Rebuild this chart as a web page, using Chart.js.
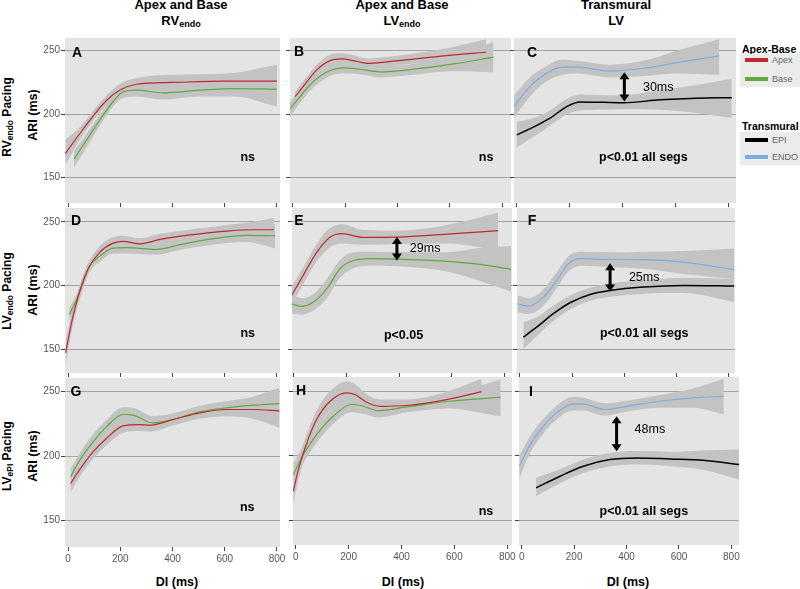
<!DOCTYPE html>
<html>
<head>
<meta charset="utf-8">
<script src="https://cdn.jsdelivr.net/npm/chart.js@4"></script>
<style>
body { margin: 0; background: #fff; width: 800px; height: 589px; overflow: hidden; position: relative;
       font-family: "Liberation Sans", Arial, sans-serif; }
.t { position: absolute; white-space: nowrap; color: #000; line-height: 14px; }
.hd { font-weight: bold; font-size: 13px; transform: translateX(-50%); }
.hd sub { font-size: 9px; vertical-align: -2px; }
.rot { font-weight: bold; transform: translate(-50%, -50%) rotate(-90deg); }
.rot sub { font-size: 8.5px; vertical-align: -2px; }
.lgT { font-weight: bold; font-size: 10.5px; }
.lgBox { position: absolute; background: #ebebeb; }
.sw { position: absolute; height: 4px; width: 23px; }
.lgI { font-size: 9px; color: #666; }
canvas { position: absolute; }
</style>
</head>
<body>

<div class="t hd" style="left:181px;top:-2px">Apex and Base</div>
<div class="t hd" style="left:181px;top:14px">RV<sub>endo</sub></div>
<div class="t hd" style="left:402px;top:-2px">Apex and Base</div>
<div class="t hd" style="left:402px;top:14px">LV<sub>endo</sub></div>
<div class="t hd" style="left:616px;top:-2px">Transmural</div>
<div class="t hd" style="left:616px;top:14px">LV</div>

<div class="t rot" style="left:8px;top:117px;font-size:12px">RV<sub>endo</sub> Pacing</div>
<div class="t rot" style="left:33px;top:115px;font-size:12.5px">ARI (ms)</div>
<div class="t rot" style="left:8px;top:291px;font-size:12px">LV<sub>endo</sub> Pacing</div>
<div class="t rot" style="left:33px;top:290px;font-size:12.5px">ARI (ms)</div>
<div class="t rot" style="left:8px;top:456px;font-size:12px">LV<sub>ePI</sub> Pacing</div>
<div class="t rot" style="left:33px;top:456px;font-size:12.5px">ARI (ms)</div>

<div class="t" style="left:177px;top:575px;font-weight:bold;font-size:12.5px;transform:translateX(-50%)">DI (ms)</div>
<div class="t" style="left:403px;top:575px;font-weight:bold;font-size:12.5px;transform:translateX(-50%)">DI (ms)</div>
<div class="t" style="left:628px;top:575px;font-weight:bold;font-size:12.5px;transform:translateX(-50%)">DI (ms)</div>

<div class="t lgT" style="left:742px;top:42px">Apex-Base</div>
<div class="lgBox" style="left:740px;top:54px;width:60px;height:33px"></div>
<div class="sw" style="left:745px;top:58px;background:#c0282d"></div>
<div class="t lgI" style="left:772px;top:53px">Apex</div>
<div class="sw" style="left:745px;top:77px;background:#62a83c"></div>
<div class="t lgI" style="left:772px;top:72px">Base</div>

<div class="t lgT" style="left:742px;top:119px">Transmural</div>
<div class="lgBox" style="left:740px;top:132px;width:60px;height:33px"></div>
<div class="sw" style="left:745px;top:138px;background:#000"></div>
<div class="t lgI" style="left:772px;top:133px">EPI</div>
<div class="sw" style="left:745px;top:155px;background:#7aaee0"></div>
<div class="t lgI" style="left:772px;top:150px">ENDO</div>

<script>
// axis ticks
var xTicks = [0, 200, 400, 600, 800];
var yTicks = [150, 200, 250];

// A: RVendo pacing, apex vs base
var aApexX  = [-10, 46, 97, 148, 199, 263, 400, 607, 800];
var aApex   = [169, 185, 198.7, 211, 219, 223.6, 225, 226, 226];
var aApexLo = [160, 180, 195, 207, 214, 219, 220, 220, 214];
var aApexHi = [180, 190, 203, 215, 224, 228.5, 231, 232, 239];
var aBaseX  = [23, 71.5, 122, 173, 212, 263, 364, 505, 633, 800];
var aBase   = [164.6, 179.8, 195.5, 210, 217.8, 219, 216.8, 218.9, 220.2, 219.7];
var aBaseLo = [158, 174, 191, 206, 213, 214, 211.5, 214, 214, 206];
var aBaseHi = [171, 185, 200, 214, 222, 223.5, 222, 224, 226, 233];

// B
var bApexX  = [9, 40, 92, 143, 187, 232, 285, 359, 487, 614, 739];
var bApex   = [213.9, 221.7, 234.9, 242.2, 243.5, 242.2, 240.1, 241.2, 244, 246.7, 248.8];
var bApexLo = [209, 217, 230, 237.5, 239, 238, 236.5, 237.5, 240, 240, 238];
var bApexHi = [218, 226, 239, 247, 248, 246.5, 244, 245, 248.5, 253, 259];
var bBaseX  = [-10, 28, 79, 143, 193, 257, 334, 461, 614, 767];
var bBase   = [204.2, 213.9, 225.7, 234.4, 236.5, 235.4, 233.3, 235.4, 239.6, 244.9];
var bBaseLo = [198, 209, 221, 230, 232, 231.5, 229, 231, 234, 233];
var bBaseHi = [210, 219, 230, 238.5, 241, 239.5, 237.5, 239.5, 245, 257];

// C: transmural
var cEndoX  = [-10, 50, 113, 176, 227, 353, 479, 605, 766];
var cEndo   = [206, 221.7, 232.3, 237, 237, 234, 236.2, 240.6, 245.9];
var cEndoLo = [197, 214, 226, 231, 232, 229, 230, 232, 231];
var cEndoHi = [215, 229, 238, 243, 242, 239, 242, 250, 259];
var cEpiX   = [0, 63, 126, 189, 239, 327, 403, 542, 680, 813];
var cEpi    = [183.7, 189.8, 196.9, 206, 209.7, 209.4, 209.1, 211.3, 212.6, 213];
var cEpiLo  = [174, 182, 191, 200, 203, 203.5, 204, 203.5, 201, 197];
var cEpiHi  = [194, 197, 203, 212, 215.5, 215, 215, 219, 223, 228];

// D: LVendo pacing
var dApexX  = [-9, 14, 46, 80, 122, 173, 212, 276, 352, 454, 607, 709, 788];
var dApex   = [147.1, 171.2, 196, 214, 226.2, 233.2, 234.6, 232.7, 236.1, 239.3, 242.7, 243.7, 243.7];
var dApexLo = [137, 164, 190, 209.5, 221, 228.5, 230, 228, 232, 235, 238, 237.5, 235];
var dApexHi = [157, 178, 201, 218.5, 231, 238, 239, 237, 240.5, 243.5, 247.5, 250, 253];
var dBaseX  = [5, 33, 55, 80, 122, 173, 224, 340, 429, 556, 684, 793];
var dBase   = [177.2, 189, 201, 214.5, 223, 229.3, 229.6, 228.3, 232, 236.7, 239.3, 239];
var dBaseLo = [172, 185, 197, 210, 218.5, 225, 225, 224, 228, 232, 234, 229];
var dBaseHi = [182, 193, 205, 219, 227.5, 234, 234, 232.5, 236, 241, 245, 248];

// E
var eApexX  = [-8, 36, 88, 138, 183, 265, 392, 582, 776];
var eApex   = [192.1, 207.9, 226.2, 237.9, 240.6, 237.7, 237.9, 240.3, 243];
var eApexLo = [185, 201, 219, 230, 233, 232, 232.5, 233, 228];
var eApexHi = [199, 214, 233, 245, 248, 243.5, 243, 247.5, 257];
var eBaseX  = [-8, 30, 75, 126, 176, 227, 290, 392, 582, 708, 826];
var eBase   = [185.6, 183.5, 186.9, 197.4, 213.1, 219.6, 221, 220.7, 218.9, 216.5, 212.6];
var eBaseLo = [178, 177, 180.5, 190, 206, 213.5, 215.5, 215, 211, 203.5, 195];
var eBaseHi = [193, 190, 193, 205, 220, 226, 226.5, 226, 226, 229.5, 231];

// F
var fEndoX  = [-10, 32, 90, 141, 186, 230, 346, 474, 627, 822];
var fEndo   = [185.6, 183.7, 190.8, 203.9, 217, 221, 220.4, 220.2, 218.3, 212.3];
var fEndoLo = [179, 177.5, 184, 198, 211, 215.5, 214.5, 213, 209, 205];
var fEndoHi = [192, 190, 197, 210.5, 223, 226.5, 226, 226.5, 227, 229];
var fEpiX   = [13, 64, 128, 192, 269, 346, 474, 627, 822];
var fEpi    = [159.4, 167.2, 177.8, 186.4, 192.9, 196, 198.7, 200, 199.5];
var fEpiLo  = [150, 160, 172, 181, 188, 191, 193.5, 194, 187];
var fEpiHi  = [171, 175, 184, 192, 198, 201.5, 204, 206, 205];

// G: LVepi pacing
var gApexX  = [10, 45, 96, 147, 210, 274, 312, 402, 504, 606, 708, 809];
var gApex   = [178.8, 189.7, 203.3, 213.7, 223.5, 224.5, 224, 228.4, 233.6, 236.2, 236.2, 235.1];
var gApexLo = [172, 184, 198, 208.5, 218, 219.5, 219, 224, 229, 231, 229, 222];
var gApexHi = [185, 195, 209, 219, 229, 230, 229, 233, 238, 241, 243.5, 248];
var gBaseX  = [10, 45, 96, 147, 210, 249, 325, 402, 504, 606, 708, 809];
var gBase   = [184, 196.9, 211.1, 222.7, 232.3, 231.8, 225.8, 228.4, 234.4, 237.4, 239.5, 240.8];
var gBaseLo = [178, 191, 205.5, 217, 226, 226, 221, 224, 230, 232.5, 233, 229];
var gBaseHi = [190, 202.5, 217, 228, 238, 237.5, 231, 233, 239, 242.5, 246, 253];

// H
var hApexX  = [-9, 10, 42, 79, 130, 193, 224, 268, 319, 420, 571, 703];
var hApex   = [172.3, 189.1, 209.8, 227.9, 242.1, 248.6, 247.3, 241.3, 238.2, 238.8, 243.4, 249.6];
var hApexLo = [162, 181, 203, 221, 234.5, 240, 239, 235, 233, 234, 237, 240];
var hApexHi = [182, 197, 217, 235, 250, 257.5, 255.5, 247.5, 243.5, 243.5, 249.5, 259.5];
var hBaseX  = [-9, 29, 79, 142, 212, 256, 312, 420, 571, 775];
var hBase   = [185.3, 200.8, 216.3, 230.5, 239.8, 238.2, 234.9, 237.7, 241.9, 245.2];
var hBaseLo = [177, 194, 210, 224.5, 233.5, 232.5, 229.5, 233.5, 236.5, 230.5];
var hBaseHi = [194, 207.5, 222.5, 236.5, 246, 244, 240, 242, 247, 259];

// I
var iEndoX  = [-9, 32, 82, 133, 197, 231, 317, 400, 527, 654, 771];
var iEndo   = [191.7, 208.5, 222.7, 233.1, 240.1, 240.1, 235.7, 238.2, 242.1, 244.7, 246];
var iEndoLo = [182, 202, 217, 228, 235, 235, 231, 234, 237, 237, 232];
var iEndoHi = [200, 215, 228.5, 238.5, 245.5, 245, 240.5, 242.5, 247, 252, 259.5];
var iEpiX   = [55, 146, 235, 336, 438, 565, 692, 829];
var iEpi    = [175, 184, 191.7, 196.9, 198.2, 197.4, 196.4, 193];
var iEpiLo  = [168.5, 178.5, 186.5, 191.5, 193, 192, 189, 181.5];
var iEpiHi  = [183, 189.5, 197, 202, 203.5, 203, 204, 205];

var apexRed = '#c0282d', baseGreen = '#62a83c', endoBlue = '#7aaee0', epiBlack = '#000000';
var bandGray = '#c3c3c3', panelBg = '#e4e4e4';
var fontFam = '"Liberation Sans", Arial, sans-serif';

var panels = [
  { letter: 'A', l: 65, t: 38, r: 280, b: 203, x0: -11.5, x1: 811.5, y0: 130.1, y1: 260, row: 0, col: 0, lx: 12, ly: 15,
    lines: [[aApexX, aApex, aApexLo, aApexHi, apexRed, 1.2], [aBaseX, aBase, aBaseLo, aBaseHi, baseGreen, 1.2]],
    notes: [['ns', 688, 166, true]] },
  { letter: 'B', l: 290, t: 38, r: 511, b: 203, x0: -10.3, x1: 834, y0: 130.1, y1: 260, row: 0, col: 1, lx: 9, ly: 14,
    lines: [[bApexX, bApex, bApexLo, bApexHi, apexRed, 1.2], [bBaseX, bBase, bBaseLo, bBaseHi, baseGreen, 1.2]],
    notes: [['ns', 739, 166, true]] },
  { letter: 'C', l: 514, t: 38, r: 736, b: 203, x0: -10.2, x1: 829, y0: 130.1, y1: 260, row: 0, col: 2, lx: 18, ly: 15,
    lines: [[cEndoX, cEndo, cEndoLo, cEndoHi, endoBlue, 1.2], [cEpiX, cEpi, cEpiLo, cEpiHi, epiBlack, 1.5]],
    notes: [['30ms', 535, 221, false], ['p<0.01 all segs', 479, 166, true]], arrow: [407, 233, 210] },
  { letter: 'D', l: 65, t: 208, r: 280, b: 373, x0: -11.5, x1: 811.5, y0: 131.2, y1: 260.8, row: 1, col: 0, lx: 11, ly: 13,
    lines: [[dApexX, dApex, dApexLo, dApexHi, apexRed, 1.2], [dBaseX, dBase, dBaseLo, dBaseHi, baseGreen, 1.2]],
    notes: [['ns', 688, 162, true]] },
  { letter: 'E', l: 292, t: 208, r: 512, b: 373, x0: -6.5, x1: 829, y0: 131.2, y1: 260.8, row: 1, col: 1, lx: 7, ly: 13,
    lines: [[eApexX, eApex, eApexLo, eApexHi, apexRed, 1.2], [eBaseX, eBase, eBaseLo, eBaseHi, baseGreen, 1.2]],
    notes: [['29ms', 499, 228.8, false], ['p<0.05', 417, 160.7, true]], arrow: [392, 238, 219.6] },
  { letter: 'F', l: 517, t: 208, r: 735, b: 373, x0: -11.5, x1: 825.7, y0: 131.2, y1: 260.8, row: 1, col: 2, lx: 15, ly: 13,
    lines: [[fEndoX, fEndo, fEndoLo, fEndoHi, endoBlue, 1.2], [fEpiX, fEpi, fEpiLo, fEpiHi, epiBlack, 1.5]],
    notes: [['25ms', 477, 206.5, false], ['p<0.01 all segs', 477, 162.1, true]], arrow: [346, 217.5, 195.3] },
  { letter: 'G', l: 65, t: 378, r: 280, b: 547, x0: -11.5, x1: 811.5, y0: 129.6, y1: 260.6, row: 2, col: 0, lx: 11, ly: 14,
    lines: [[gApexX, gApex, gApexLo, gApexHi, apexRed, 1.2], [gBaseX, gBase, gBaseLo, gBaseHi, baseGreen, 1.2]],
    notes: [['ns', 686, 160.2, true]] },
  { letter: 'H', l: 293, t: 377, r: 512, b: 545, x0: -10.2, x1: 817.8, y0: 130.7, y1: 260.9, row: 2, col: 1, lx: 8, ly: 14,
    lines: [[hApexX, hApex, hApexLo, hApexHi, apexRed, 1.2], [hBaseX, hBase, hBaseLo, hBaseHi, baseGreen, 1.2]],
    notes: [['ns', 719.5, 156.8, true]] },
  { letter: 'I', l: 519, t: 377, r: 739, b: 545, x0: -10.3, x1: 829, y0: 130.7, y1: 260.9, row: 2, col: 2, lx: 12, ly: 15,
    lines: [[iEndoX, iEndo, iEndoLo, iEndoHi, endoBlue, 1.2], [iEpiX, iEpi, iEpiLo, iEpiHi, epiBlack, 1.5]],
    notes: [['48ms', 489, 220.2, false], ['p<0.01 all segs', 466, 156.8, true]], arrow: [362, 230.5, 203.3] }
];

function pts(xs, ys) {
  return xs.map(function(x, i) { return { x: x, y: ys[i] }; });
}

function buildSets(lines) {
  var bands = [], mids = [];
  lines.forEach(function(ln) {
    bands.push({ data: pts(ln[0], ln[3]), borderWidth: 0, backgroundColor: bandGray, fill: '+1', order: 3 });
    bands.push({ data: pts(ln[0], ln[2]), borderWidth: 0, fill: false, order: 3 });
  });
  lines.forEach(function(ln) {
    mids.push({ data: pts(ln[0], ln[1]), borderColor: ln[4], borderWidth: ln[5], fill: false, order: 1 });
  });
  return bands.concat(mids);
}

function panelPlugin(p) {
  return {
    id: 'panel' + p.letter,
    beforeDraw: function(chart) {
      var a = chart.chartArea, ctx = chart.ctx;
      ctx.save();
      ctx.fillStyle = panelBg;
      ctx.fillRect(a.left, a.top, a.right - a.left, a.bottom - a.top);
      ctx.restore();
    },
    afterDatasetsDraw: function(chart) {
      var a = chart.chartArea, ctx = chart.ctx, sx = chart.scales.x, sy = chart.scales.y;
      ctx.save();
      ctx.fillStyle = '#000';
      ctx.textAlign = 'center';
      ctx.textBaseline = 'middle';
      ctx.font = 'bold 14px ' + fontFam;
      ctx.fillText(p.letter, a.left + p.lx, a.top + p.ly);
      p.notes.forEach(function(n) {
        ctx.font = (n[3] ? 'bold ' : '') + '12.5px ' + fontFam;
        ctx.fillText(n[0], sx.getPixelForValue(n[1]), sy.getPixelForValue(n[2]));
      });
      if (p.arrow) {
        var x = sx.getPixelForValue(p.arrow[0]);
        var yt = sy.getPixelForValue(p.arrow[1]), yb = sy.getPixelForValue(p.arrow[2]);
        var hh = 7, hw = 5;
        ctx.strokeStyle = '#000';
        ctx.lineWidth = 3;
        ctx.beginPath();
        ctx.moveTo(x, yt + hh - 1);
        ctx.lineTo(x, yb - hh + 1);
        ctx.stroke();
        ctx.beginPath();
        ctx.moveTo(x, yt); ctx.lineTo(x - hw, yt + hh); ctx.lineTo(x + hw, yt + hh); ctx.closePath();
        ctx.moveTo(x, yb); ctx.lineTo(x - hw, yb - hh); ctx.lineTo(x + hw, yb - hh); ctx.closePath();
        ctx.fill();
      }
      ctx.restore();
    }
  };
}

panels.forEach(function(p) {
  var yw = p.col === 0 ? 34 : 6;
  var xh = p.row === 2 ? 22 : 6;
  var rp = p.row === 2 ? 10 : 2;
  var w = (p.r - p.l) + yw + rp, h = (p.b - p.t) + xh;
  var cv = document.createElement('canvas');
  cv.width = w; cv.height = h;
  cv.style.left = (p.l - yw) + 'px';
  cv.style.top = p.t + 'px';
  cv.style.width = w + 'px';
  cv.style.height = h + 'px';
  document.body.appendChild(cv);

  new Chart(cv.getContext('2d'), {
    type: 'line',
    data: { datasets: buildSets(p.lines) },
    plugins: [panelPlugin(p)],
    options: {
      responsive: false,
      animation: false,
      devicePixelRatio: 1,
      layout: { padding: { left: 0, top: 0, right: rp, bottom: 0 } },
      elements: {
        point: { radius: 0, hoverRadius: 0 },
        line: { cubicInterpolationMode: 'monotone' }
      },
      plugins: {
        legend: { display: false },
        tooltip: { enabled: false },
        filler: { drawTime: 'beforeDatasetsDraw' }
      },
      scales: {
        x: {
          type: 'linear', min: p.x0, max: p.x1,
          afterBuildTicks: function(s) { s.ticks = xTicks.map(function(v) { return { value: v }; }); },
          afterFit: function(s) { s.height = xh; s.paddingLeft = 0; s.paddingRight = 0; },
          border: { display: false },
          grid: { drawOnChartArea: false, drawTicks: true, tickLength: 4, tickColor: '#444', lineWidth: 1 },
          ticks: { display: p.row === 2, color: '#555', padding: 2, maxRotation: 0, autoSkip: false,
                   font: { size: 10, family: fontFam } }
        },
        y: {
          type: 'linear', min: p.y0, max: p.y1,
          afterBuildTicks: function(s) { s.ticks = yTicks.map(function(v) { return { value: v }; }); },
          afterFit: function(s) { s.width = yw; s.paddingTop = 0; s.paddingBottom = 0; },
          border: { display: false },
          grid: { drawOnChartArea: true, drawTicks: true, tickLength: 4, color: '#a4a4a4', tickColor: '#444', lineWidth: 1 },
          ticks: { display: p.col === 0, color: '#555', padding: 1, font: { size: 10, family: fontFam } }
        }
      }
    }
  });
});
</script>
</body>
</html>
